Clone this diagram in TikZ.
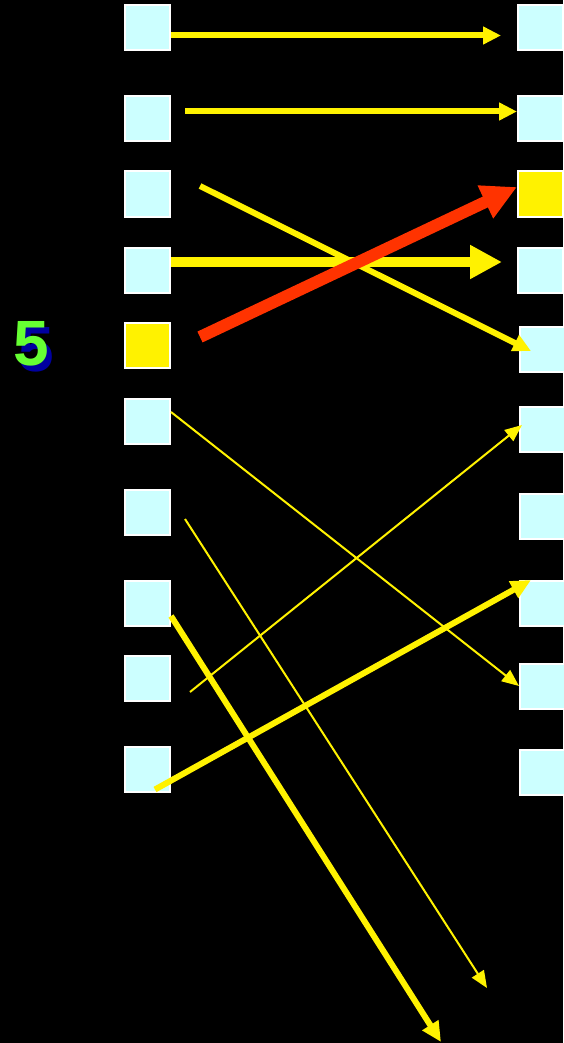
\documentclass[tikz,border=0pt]{standalone}
\usepackage{fontspec}
\setmainfont{Liberation Sans}
\usetikzlibrary{arrows.meta}
\definecolor{slotcyan}{HTML}{CCFFFF}
\definecolor{hotred}{HTML}{FF3300}
\definecolor{digitgreen}{HTML}{66FF33}
\definecolor{shadowblue}{HTML}{0000A0}
\tikzset{
	slot/.style={draw=white, line width=2pt, fill=slotcyan, minimum size=45pt, inner sep=0pt},
	marked/.style={slot, fill=yellow},
	thinarr/.style={draw=yellow, line width=2pt, -{Triangle[length=17pt,width=14pt]}},
	medarr/.style={draw=yellow, line width=6pt, -{Triangle[length=18pt,width=17pt]}},
	boldarr/.style={draw=yellow, line width=6pt, -{Triangle[length=20pt,width=18pt]}},
	fatarr/.style={draw=yellow, line width=10pt, -{Triangle[length=32pt,width=32pt]}},
	redarr/.style={draw=hotred, line width=12pt, -{Triangle[length=35pt,width=34pt]}},
	digit/.style={font=\bfseries\fontsize{64}{64}\selectfont, inner sep=0pt, text=digitgreen}
}
\newcommand\shadowed[1]{\makebox[0pt][l]{\hspace{5pt}\raisebox{-6pt}{\color{shadowblue}#1}}#1}

\begin{document}
\begin{tikzpicture}[x=1pt, y=-1pt]
	\fill[black] (0,0) rectangle (563,1043);
	\useasboundingbox (0,0) rectangle (563,1043);
	% left column
	\foreach \i/\y in {1/28,2/119,3/194,4/270,6/421,7/512,8/603,9/678.5,10/769}
		\node[slot] (l\i) at (147.5,\y) {};
	\node[marked] (l5) at (147.5,345.5) {};
	% right column
	\foreach \i/\x/\y in {1/540.5/28,2/540.5/119,4/540.5/270,5/542.5/349,6/542.5/429,7/542.5/516,8/542.5/603.5,9/542.5/686,10/542.5/772.5}
		\node[slot] (r\i) at (\x,\y) {};
	\node[marked] (r3) at (540.5,194) {};
	% step label
	\node[digit, anchor=south west] (label5) at (13,372) {\shadowed{5}};
	% free ends below the picture
	\coordinate (drop7) at (487,988);
	\coordinate (drop8) at (441,1042);
	% moves
	\draw[medarr] ([shift={(0,7.5)}]l1.east) -- ([shift={(-16,7.5)}]r1.west);
	\draw[medarr] ([shift={(14,-7.5)}]l2.east) -- ([shift={(0,-7.5)}]r2.west);
	\draw[medarr] ([shift={(29,-8)}]l3.east) -- ([shift={(12,2)}]r5.west);
	\draw[fatarr] ([shift={(0,-8)}]l4.east) -- ([shift={(-15,-8)}]r4.west);
	\draw[redarr] ([shift={(29,-8.5)}]l5.east) -- ([shift={(0,-7)}]r3.west);
	\draw[thinarr] ([shift={(0,-9)}]l6.east) -- (r9.west);
	\draw[thinarr] ([shift={(14,7)}]l7.east) -- (drop7);
	\draw[boldarr] ([shift={(0,13)}]l8.east) -- (drop8);
	\draw[thinarr] ([shift={(19,13.5)}]l9.east) -- ([shift={(3,-4)}]r6.west);
	\draw[boldarr] ([shift={(7.5,-3)}]l10.south) -- ([shift={(12,0)}]r8.north west);
\end{tikzpicture}
\end{document}
